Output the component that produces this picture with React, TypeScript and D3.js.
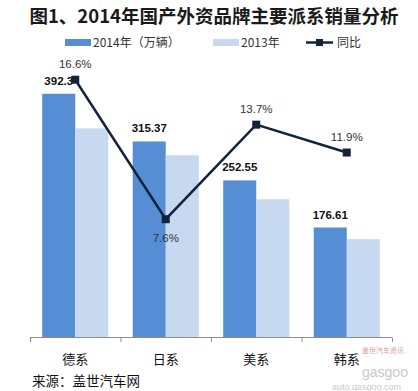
import React from 'react'
import { scaleBand, scaleLinear, line } from 'd3'

const categories = ['德系', '日系', '美系', '韩系']
const sales2014 = [392.3, 315.37, 252.55, 176.61]
const sales2013 = [336.5, 293.1, 222.1, 157.8]
const growth = [16.6, 7.6, 13.7, 11.9]
const growthLabels = ['16.6%', '7.6%', '13.7%', '11.9%']
const valueLabels = ['392.3', '315.37', '252.55', '176.61']
const seriesNames = ['2014年（万辆）', '2013年', '同比']

const W = 418
const H = 391
const DARK = '#558ed5'
const LIGHT = '#c6d9f1'
const NAVY = '#14233c'
const CJK = '"Noto Sans CJK SC", sans-serif'
const NUM = '"Liberation Sans", "Noto Sans CJK SC", sans-serif'

const App = () => {
    // Scales
    const x = scaleBand<string>().domain(categories).range([30, 392])
    const inner = scaleBand<string>().domain(['a', 'b']).range([0, x.bandwidth()]).paddingOuter(0.37)
    const y = scaleLinear().domain([0, 450]).range([337, 58])
    const y2 = scaleLinear().domain([0, 18]).range([337, 58])

    const cx = (i: number) => (x(categories[i]) as number) + x.bandwidth() / 2

    const growthLine = line<number>()
        .x((d, i) => cx(i))
        .y(d => y2(d))

    const edges = [...categories.map(c => x(c) as number), 392]

    return (
        <svg width={W} height={H} style={{ position: 'absolute', left: 0, top: 0, background: '#fff' }}>
            <text x={214} y={23} textAnchor="middle" fontFamily={CJK} fontWeight="bold" fontSize={18.5} fill="#1a1a1a">
                图1、2014年国产外资品牌主要派系销量分析
            </text>

            {/* legend */}
            <g fontFamily={CJK} fontSize={12} fill="#333">
                <rect x={65} y={39} width={26} height={7} fill={DARK} />
                <text x={93} y={47}>{seriesNames[0]}</text>
                <rect x={213} y={39} width={26} height={7} fill={LIGHT} />
                <text x={241} y={47}>{seriesNames[1]}</text>
                <line x1={306} x2={333} y1={42.5} y2={42.5} stroke={NAVY} strokeWidth={2.5} />
                <rect x={316} y={39} width={7} height={7} fill={NAVY} />
                <text x={337} y={47}>{seriesNames[2]}</text>
            </g>

            {/* bars */}
            {categories.map((c, i) => {
                const x0 = x(c) as number
                return (
                    <g key={c}>
                        <rect x={x0 + (inner('a') as number)} y={y(sales2014[i])} width={inner.bandwidth()}
                            height={y(0) - y(sales2014[i])} fill={DARK} />
                        <rect x={x0 + (inner('b') as number)} y={y(sales2013[i])} width={inner.bandwidth()}
                            height={y(0) - y(sales2013[i])} fill={LIGHT} />
                        <text x={x0 + (inner('a') as number) + inner.bandwidth() / 2} y={y(sales2014[i]) - 9}
                            textAnchor="middle" fontFamily={NUM} fontWeight="bold" fontSize={11.5} fill="#111">
                            {valueLabels[i]}
                        </text>
                    </g>
                )
            })}

            {/* x axis */}
            <g stroke="#8c8c8c" strokeWidth={1}>
                <line x1={30} x2={392} y1={337.5} y2={337.5} />
                {edges.map((e, i) => (
                    <line key={i} x1={e + 0.5} x2={e + 0.5} y1={337.5} y2={342} />
                ))}
            </g>
            {categories.map((c, i) => (
                <text key={c} x={cx(i)} y={364} textAnchor="middle" fontFamily={CJK} fontSize={13} fill="#111">{c}</text>
            ))}

            {/* growth line */}
            <path d={growthLine(growth) as string} fill="none" stroke={NAVY} strokeWidth={2.5} />
            {growth.map((g, i) => (
                <g key={i}>
                    <rect x={cx(i) - 4} y={y2(g) - 4} width={8} height={8} fill={NAVY} />
                    <text x={cx(i)} y={i === 1 ? y2(g) + 23 : y2(g) - 12} textAnchor="middle"
                        fontFamily={NUM} fontSize={11.5} fill="#333">
                        {growthLabels[i]}
                    </text>
                </g>
            ))}

            <text x={32} y={386} fontFamily={CJK} fontSize={13.5} fill="#111">来源：盖世汽车网</text>

            {/* watermark */}
            <g fill="#c8c8c8" fontFamily='"Liberation Sans", sans-serif'>
                <text x={362} y={353} fontSize={7} fontFamily={CJK} fill="#e0a0a0">盖世汽车资讯</text>
                <text x={362} y={377} fontSize={14}>gasgoo</text>
                <text x={332} y={390} fontSize={9}>auto.gasgoo.com</text>
            </g>
        </svg>
    )
}

export default App
